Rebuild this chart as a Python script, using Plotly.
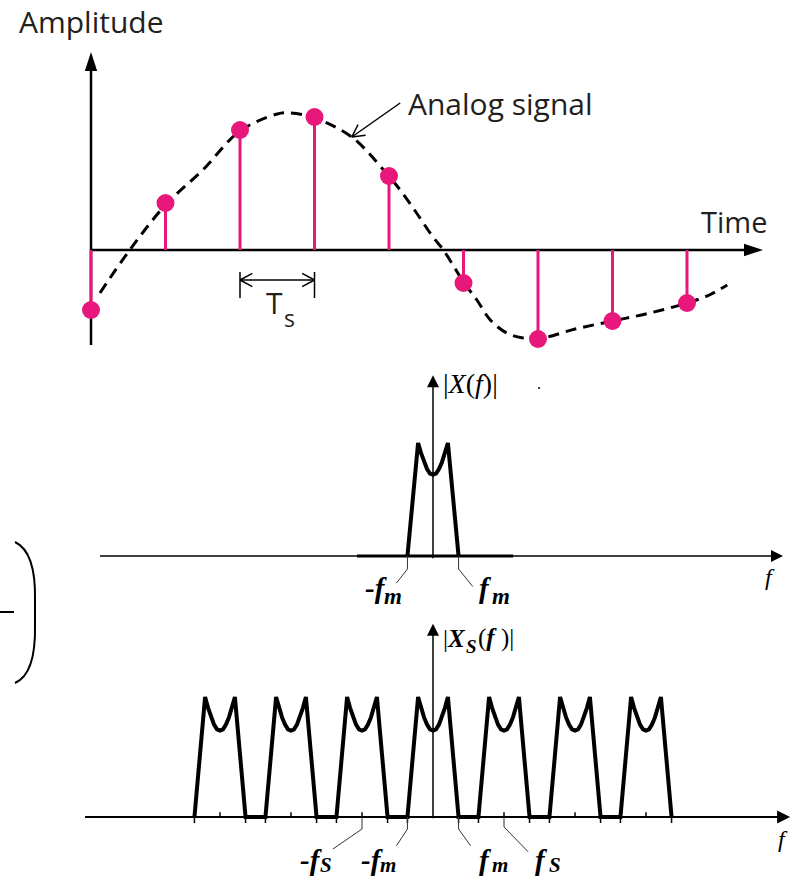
import math
import plotly.graph_objects as go

W, H = 803, 880

# ---------------- data: sampled analog signal (top panel) ----------------
sample_t = [0, 1, 2, 3, 4, 5, 6, 7, 8]
sample_amp = [-0.60, 0.47, 1.20, 1.33, 0.74, -0.33, -0.89, -0.71, -0.53]
analog_t = [0.12, 0.52, 1.0, 1.5, 2.0, 2.5, 2.67, 3.0, 3.5, 3.95, 4.15, 4.37, 4.59, 4.73,
            5.0, 5.18, 5.36, 5.58, 5.8, 6.0, 6.5, 7.0, 7.5, 8.0, 8.3, 8.54]
analog_amp = [-0.43, 0.0, 0.45, 0.80, 1.19, 1.36, 1.37, 1.32, 1.13, 0.78, 0.60, 0.37, 0.13, 0.0,
              -0.32, -0.50, -0.70, -0.83, -0.88, -0.89, -0.79, -0.71, -0.63, -0.53, -0.45, -0.35]

# ---------------- data: spectra (middle / bottom panels) ----------------
fs = 1.0
fm = 0.36
shape_f = [-0.36, -0.21, -0.168, -0.126, -0.084, -0.042, 0.0, 0.042, 0.084, 0.126, 0.168, 0.21, 0.36]
shape_mag = [0.0, 1.0, 0.91, 0.83, 0.77, 0.73, 0.72, 0.73, 0.77, 0.83, 0.91, 1.0, 0.0]
replica_k = [-3, -2, -1, 0, 1, 2, 3]

PINK = "#e8177c"
INK = "#231f20"
SANS = "Open Sans"
SERIF = "Liberation Serif"

# pixel scales of the three panels
T_PX, A_PX = 74.5, 100.0      # top: px per time unit / amplitude unit
F_PX = 71.0                   # spectra: px per frequency unit
M_PX2, M_PX3 = 113.0, 120.0   # spectra: px per magnitude unit


def PX(x):
    return x / W


def PY(y):
    return 1 - y / H


fig = go.Figure()


def line(xs, ys, xa, ya, width, color="black", dash=None, shape="linear"):
    fig.add_trace(go.Scatter(x=xs, y=ys, mode="lines", xaxis=xa, yaxis=ya,
                             line=dict(color=color, width=width, dash=dash, shape=shape),
                             hoverinfo="skip", showlegend=False))


def head(x, y, xa, ya, symbol, size, angle):
    fig.add_trace(go.Scatter(x=[x], y=[y], mode="markers", xaxis=xa, yaxis=ya,
                             marker=dict(symbol=symbol, size=size, angle=angle, color="black",
                                         line=dict(width=0)),
                             hoverinfo="skip", showlegend=False))


def vhead(tip_t, tip_a, from_t, from_a, length=14, spread=28):
    """open V arrow head in the top panel (geometry in pixels)"""
    dx = (from_t - tip_t) * T_PX
    dy = -(from_a - tip_a) * A_PX
    n = math.hypot(dx, dy)
    ux, uy = dx / n, dy / n
    xs, ys = [], []
    for s in (spread, -spread):
        c, si = math.cos(math.radians(s)), math.sin(math.radians(s))
        rx, ry = ux * c - uy * si, ux * si + uy * c
        xs += [tip_t + rx * length / T_PX]
        ys += [tip_a - ry * length / A_PX]
    line([xs[0], tip_t, xs[1]], [ys[0], tip_a, ys[1]], "x", "y", 1.5)


# ---------- top panel ----------
line([0, 0], [-0.95, 1.9], "x", "y", 2.5)
head(0, 1.98, "x", "y", "arrow", 20, 0)
line([0, 8.95], [0, 0], "x", "y", 2.5)
head(9.02, 0, "x", "y", "arrow", 20, 90)

for t, a in zip(sample_t, sample_amp):
    line([t, t], [0, a], "x", "y", 3, color=PINK)
line(analog_t, analog_amp, "x", "y", 3, dash="11px,7px", shape="spline")
fig.add_trace(go.Scatter(x=sample_t, y=sample_amp, mode="markers",
                         marker=dict(color=PINK, size=18), xaxis="x", yaxis="y",
                         showlegend=False))

# Ts marker
for t in (2, 3):
    line([t, t], [-0.22, -0.48], "x", "y", 1.5)
line([2, 3], [-0.30, -0.30], "x", "y", 1.5)
vhead(2, -0.30, 3, -0.30)
vhead(3, -0.30, 2, -0.30)
# analog signal pointer
line([3.5, 4.15], [1.13, 1.47], "x", "y", 1.5)
vhead(3.5, 1.13, 4.15, 1.47)

# ---------- middle panel ----------
line([0, 0], [-0.02, 1.55], "x2", "y2", 1.5)
head(0, 1.60, "x2", "y2", "arrow-up", 12, 0)
line([-4.69, 4.88], [0, 0], "x2", "y2", 1.5)
head(4.93, 0, "x2", "y2", "arrow-up", 12, 90)
line([-1.07, 1.13], [0, 0], "x2", "y2", 3)
line(shape_f, shape_mag, "x2", "y2", 4)

# ---------- bottom panel ----------
line([0, 0], [-0.01, 1.56], "x3", "y3", 1.5)
head(0, 1.61, "x3", "y3", "arrow-up", 12, 0)
line([-4.90, 4.98], [0, 0], "x3", "y3", 2)
head(5.03, 0, "x3", "y3", "arrow-up", 13, 90)

rep_x, rep_y = [], []
for k in replica_k:
    rep_x += [k * fs + f for f in shape_f]
    rep_y += shape_mag
line(rep_x, rep_y, "x3", "y3", 4)

tick_x, tick_y = [], []
for k in replica_k:
    for e in (-fm, fm):
        tick_x += [k * fs + e, k * fs + e, None]
        tick_y += [0, -0.05, None]
    if k != 0:
        tick_x += [k * fs, k * fs, None]
        tick_y += [0, 0.04, None]
line(tick_x, tick_y, "x3", "y3", 1.5)

# leader lines
line([-fm, -fm, -fm - 0.155], [0, -0.115, -0.24], "x2", "y2", 1, color="#333")
line([fm, fm, fm + 0.2], [0, -0.115, -0.27], "x2", "y2", 1, color="#333")
line([-fs, -fs, -fs - 0.41], [0, -0.1, -0.267], "x3", "y3", 1, color="#333")
line([-fm, -fm, -fm - 0.155], [0, -0.1, -0.24], "x3", "y3", 1, color="#333")
line([fm, fm, fm + 0.17], [0, -0.1, -0.24], "x3", "y3", 1, color="#333")
line([fs, fs, fs + 0.34], [0, -0.083, -0.29], "x3", "y3", 1, color="#333")

shapes = []
# bracket fragment at left
pts = [(15, 542), (36, 552), (35, 600), (35, 625), (36, 674), (15, 683)]
path = "M {},{} Q {},{} {},{} L {},{} Q {},{} {},{}".format(
    *[v for p in pts for v in (PX(p[0]), PY(p[1]))])
shapes.append(dict(type="path", xref="paper", yref="paper", path=path,
                   line=dict(color="black", width=2)))
shapes.append(dict(type="line", xref="paper", yref="paper", x0=PX(0), x1=PX(14),
                   y0=PY(612), y1=PY(612), line=dict(color="black", width=2)))

annotations = []


def label(text, x, y, size, family, xanchor="left", color="black"):
    annotations.append(dict(text=text, x=PX(x), y=PY(y), xref="paper", yref="paper",
                            xanchor=xanchor, yanchor="middle", showarrow=False,
                            font=dict(size=size, family=family, color=color)))


label("Amplitude", 17, 21, 30, SANS, color=INK)
label("Analog signal", 406, 103, 30, SANS, color=INK)
label("Time", 699, 221, 29, SANS, color=INK)
label("T", 274, 303, 30, SANS, xanchor="center", color=INK)
label("s", 282, 318, 23, SANS, color=INK)

label("|<i>X</i>(<i>f</i>)|", 441, 384, 28, SERIF)
label(".", 535, 383, 16, SERIF)
label("<b><i>-f</i></b>", 376, 588, 29, SERIF, xanchor="center")
label("<b><i>m</i></b>", 382, 596, 23, SERIF)
label("<b><i>f</i></b>", 485, 588, 29, SERIF, xanchor="center")
label("<b><i>m</i></b>", 490, 596, 23, SERIF)
label("<i>f</i>", 770, 577, 24, SERIF, xanchor="center")

label("|<b><i>X</i></b>", 441, 638, 25, SERIF)
label("<b><i>S</i></b>", 464, 646, 19, SERIF)
label("(<b><i>f</i></b> )|", 476, 638, 25, SERIF)
label("<b><i>-f</i></b>", 311, 860, 29, SERIF, xanchor="center")
label("<b><i>S</i></b>", 318, 865, 21, SERIF)
label("<b><i>-f</i></b>", 372, 860, 29, SERIF, xanchor="center")
label("<b><i>m</i></b>", 378, 865, 21, SERIF)
label("<b><i>f</i></b>", 485, 860, 29, SERIF, xanchor="center")
label("<b><i>m</i></b>", 490, 865, 21, SERIF)
label("<b><i>f</i></b>", 541, 860, 29, SERIF, xanchor="center")
label("<b><i>S</i></b>", 547, 865, 21, SERIF)
label("<i>f</i>", 783, 839, 24, SERIF, xanchor="center")

hidden = dict(visible=False, showgrid=False, zeroline=False, fixedrange=True)

fig.update_layout(
    width=W, height=H, margin=dict(l=0, r=0, t=0, b=0),
    paper_bgcolor="white", plot_bgcolor="rgba(0,0,0,0)",
    showlegend=False,
    xaxis=dict(domain=[0, 1], range=[-91 / T_PX, (W - 91) / T_PX], **hidden),
    yaxis=dict(domain=[1 - 360 / H, 1], range=[(250 - 360) / A_PX, 250 / A_PX], **hidden),
    xaxis2=dict(domain=[0, 1], range=[-433 / F_PX, (W - 433) / F_PX], anchor="y2", **hidden),
    yaxis2=dict(domain=[1 - 600 / H, 1 - 360 / H],
                range=[-(600 - 556) / M_PX2, (556 - 360) / M_PX2], anchor="x2", **hidden),
    xaxis3=dict(domain=[0, 1], range=[-433 / F_PX, (W - 433) / F_PX], anchor="y3", **hidden),
    yaxis3=dict(domain=[0, 1 - 600 / H],
                range=[-(880 - 817) / M_PX3, (817 - 600) / M_PX3], anchor="x3", **hidden),
    annotations=annotations,
    shapes=shapes,
)

fig.write_html("out.html", config={"displayModeBar": False},
               post_script="document.body.style.margin='0';document.body.style.padding='0';"
                           "document.body.style.overflow='hidden';")
